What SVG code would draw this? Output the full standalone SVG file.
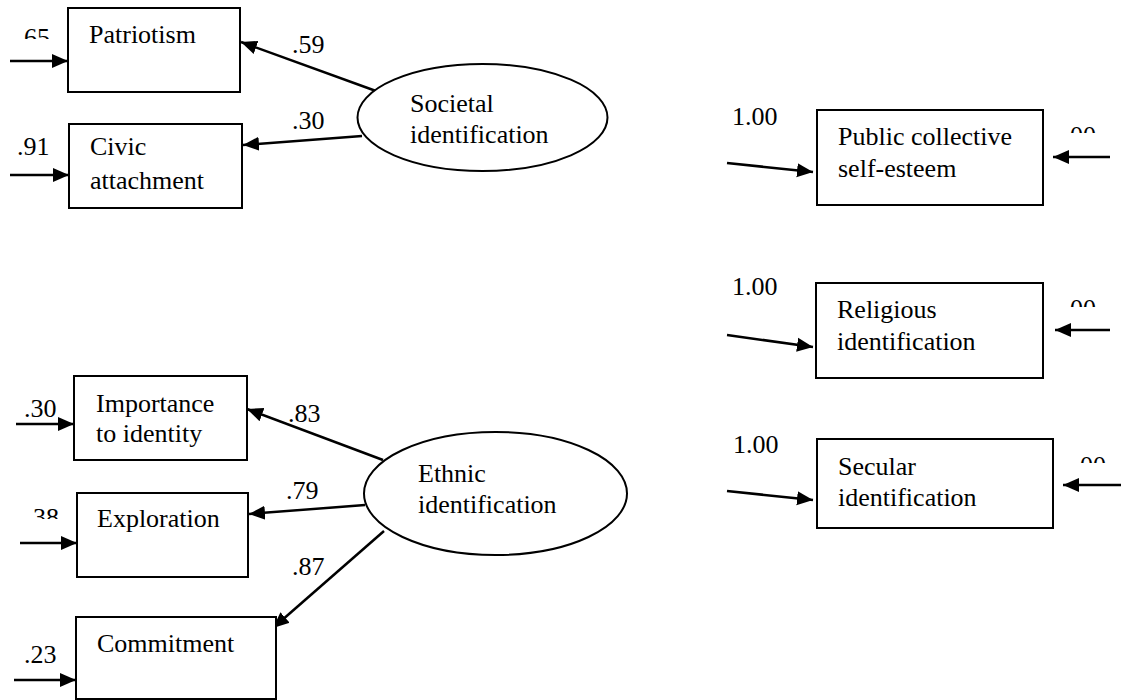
<svg xmlns="http://www.w3.org/2000/svg" width="1121" height="700" viewBox="0 0 1121 700">
<style>
text{font-family:'Liberation Serif','DejaVu Serif',serif;font-size:26px;fill:#000}
.box{fill:#fff;stroke:#000;stroke-width:2}
.ell{fill:#fff;stroke:#000;stroke-width:2}
.arr{stroke:#000;stroke-width:2.5;fill:none;marker-end:url(#ah)}
</style>
<defs>
<marker id="ah" markerUnits="userSpaceOnUse" markerWidth="16" markerHeight="16" viewBox="0 0 16 16" refX="16" refY="8" orient="auto">
<path d="M0,1 L16,8 L0,15 z" fill="#000"/>
</marker>
<clipPath id="c65"><rect x="0" y="0" width="70" height="39"/></clipPath>
<clipPath id="c38"><rect x="0" y="490" width="70" height="29"/></clipPath>
<clipPath id="c00a"><rect x="1055" y="110" width="66" height="23"/></clipPath>
<clipPath id="c00b"><rect x="1055" y="285" width="66" height="22"/></clipPath>
<clipPath id="c00c"><rect x="1065" y="440" width="56" height="23"/></clipPath>
</defs>

<g id="connectors">
<line class="arr" x1="10" y1="61" x2="68" y2="61"/>
<line class="arr" x1="10" y1="175" x2="69" y2="175"/>
<line class="arr" x1="376" y1="91" x2="241" y2="42"/>
<line class="arr" x1="362" y1="136" x2="243" y2="145"/>
<line class="arr" x1="16" y1="424" x2="74" y2="424"/>
<line class="arr" x1="20" y1="543" x2="77" y2="543"/>
<line class="arr" x1="14" y1="680" x2="76" y2="680"/>
<line class="arr" x1="383" y1="460" x2="247" y2="409"/>
<line class="arr" x1="365" y1="505" x2="249" y2="514"/>
<line class="arr" x1="384" y1="531" x2="273" y2="628"/>
<line class="arr" x1="727" y1="163" x2="813" y2="172"/>
<line class="arr" x1="1110" y1="157" x2="1053" y2="157"/>
<line class="arr" x1="727" y1="335" x2="813" y2="347"/>
<line class="arr" x1="1110" y1="330" x2="1055" y2="330"/>
<line class="arr" x1="727" y1="491" x2="813" y2="500"/>
<line class="arr" x1="1121" y1="485" x2="1063" y2="485"/>
</g>

<g id="labels">
<text x="17.5" y="45.5" clip-path="url(#c65)">.65</text>
<text x="17" y="155">.91</text>
<text x="292" y="53">.59</text>
<text x="292" y="129">.30</text>
<text x="24" y="417">.30</text>
<text x="26.5" y="525.5" clip-path="url(#c38)">.38</text>
<text x="24" y="663">.23</text>
<text x="288" y="422">.83</text>
<text x="286" y="499">.79</text>
<text x="292" y="575">.87</text>
<text x="732" y="125">1.00</text>
<text x="732" y="295">1.00</text>
<text x="733" y="453">1.00</text>
<text x="1063.5" y="143.5" clip-path="url(#c00a)">.00</text>
<text x="1063.5" y="316.5" clip-path="url(#c00b)">.00</text>
<text x="1073.5" y="473.5" clip-path="url(#c00c)">.00</text>
</g>

<g id="patriotism">
<rect class="box" x="68" y="8" width="172" height="84"/>
<text x="89" y="43">Patriotism</text>
</g>
<g id="civic">
<rect class="box" x="69" y="124" width="173" height="84"/>
<text x="90" y="155">Civic</text>
<text x="90" y="189">attachment</text>
</g>
<g id="societal">
<ellipse class="ell" cx="482.5" cy="117.5" rx="125" ry="53.5"/>
<text x="410" y="112">Societal</text>
<text x="410" y="143">identification</text>
</g>
<g id="importance">
<rect class="box" x="74" y="376" width="173" height="84"/>
<text x="96" y="412">Importance</text>
<text x="96" y="442">to identity</text>
</g>
<g id="exploration">
<rect class="box" x="77" y="493" width="171" height="84"/>
<text x="97" y="527">Exploration</text>
</g>
<g id="commitment">
<rect class="box" x="76" y="617" width="200" height="82"/>
<text x="97" y="652">Commitment</text>
</g>
<g id="ethnic">
<ellipse class="ell" cx="495.5" cy="493.5" rx="131.5" ry="61.5"/>
<text x="418" y="482">Ethnic</text>
<text x="418" y="513">identification</text>
</g>
<g id="public">
<rect class="box" x="817" y="110" width="226" height="95"/>
<text x="838" y="145">Public collective</text>
<text x="838" y="177">self-esteem</text>
</g>
<g id="religious">
<rect class="box" x="816" y="283" width="227" height="95"/>
<text x="837" y="318">Religious</text>
<text x="837" y="350">identification</text>
</g>
<g id="secular">
<rect class="box" x="817" y="439" width="236" height="89"/>
<text x="838" y="475">Secular</text>
<text x="838" y="506">identification</text>
</g>
</svg>
